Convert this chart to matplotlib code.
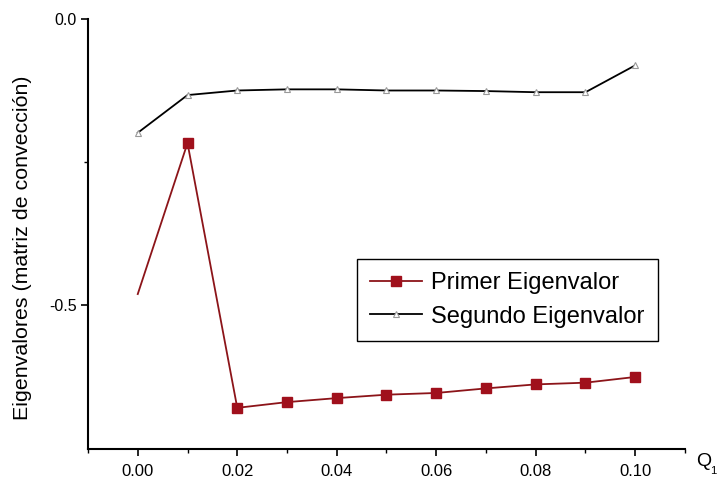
import numpy as np
import matplotlib.pyplot as plt

q1 = [0.00, 0.01, 0.02, 0.03, 0.04, 0.05, 0.06, 0.07, 0.08, 0.09, 0.10]
primer = [-0.481, -0.217, -0.680, -0.670, -0.663, -0.657, -0.654, -0.646, -0.639, -0.636, -0.626]
segundo = [-0.199, -0.133, -0.125, -0.123, -0.123, -0.125, -0.125, -0.126, -0.128, -0.128, -0.081]

plt.rcParams['font.family'] = ['Liberation Sans', 'DejaVu Sans']

fig = plt.figure(figsize=(7.19, 4.84), dpi=100)
ax = fig.add_axes([0.1224, 0.0723, 0.8303, 0.8884])

ax.plot(q1, primer, color='#8c1419', lw=1.3, marker='s', markersize=7,
        markerfacecolor='#a0101c', markeredgecolor='#a0101c', markevery=list(range(1, len(q1))),
        label='Primer Eigenvalor')
ax.plot(q1, segundo, color='black', lw=1.3, marker='^', markersize=5,
        markerfacecolor='white', markeredgecolor='#999999', markeredgewidth=0.8,
        label='Segundo Eigenvalor')

ax.set_xlim(-0.01, 0.11)
ax.set_ylim(-0.752, 0.0)
ax.set_xticks([0.00, 0.02, 0.04, 0.06, 0.08, 0.10])
ax.set_xticklabels(['0.00', '0.02', '0.04', '0.06', '0.08', '0.10'])
ax.set_xticks(np.arange(-0.01, 0.111, 0.01), minor=True)
ax.set_yticks([-0.5, 0.0])
ax.set_yticklabels(['-0.5', '0.0'])
ax.set_yticks([-0.25], minor=True)

for s in ['top', 'right']:
    ax.spines[s].set_visible(False)
for s in ['left', 'bottom']:
    ax.spines[s].set_linewidth(1.5)
ax.tick_params(which='major', direction='out', length=5, width=1.2)
ax.tick_params(axis='x', which='major', labelsize=12, pad=6)
ax.tick_params(axis='y', which='major', labelsize=11.5, pad=3)
ax.tick_params(which='minor', direction='out', length=3, width=1.0)

ax.set_ylabel('Eigenvalores (matriz de convección)', fontsize=15.4)
ax.yaxis.set_label_coords(-0.094, 0.467)
ax.text(1.018, -0.03, 'Q', transform=ax.transAxes, fontsize=14, ha='left', va='center')
ax.text(1.042, -0.052, '1', transform=ax.transAxes, fontsize=8, ha='left', va='center')

leg = ax.legend(loc='upper left', bbox_to_anchor=(0.4506, 0.442), fontsize=17, frameon=True,
                fancybox=False, edgecolor='black', framealpha=1, handlelength=2.2,
                borderpad=0.55, labelspacing=0.5, handletextpad=0.4, borderaxespad=0)
leg.get_frame().set_linewidth(1.0)

fig.savefig('out.png', dpi=100)
